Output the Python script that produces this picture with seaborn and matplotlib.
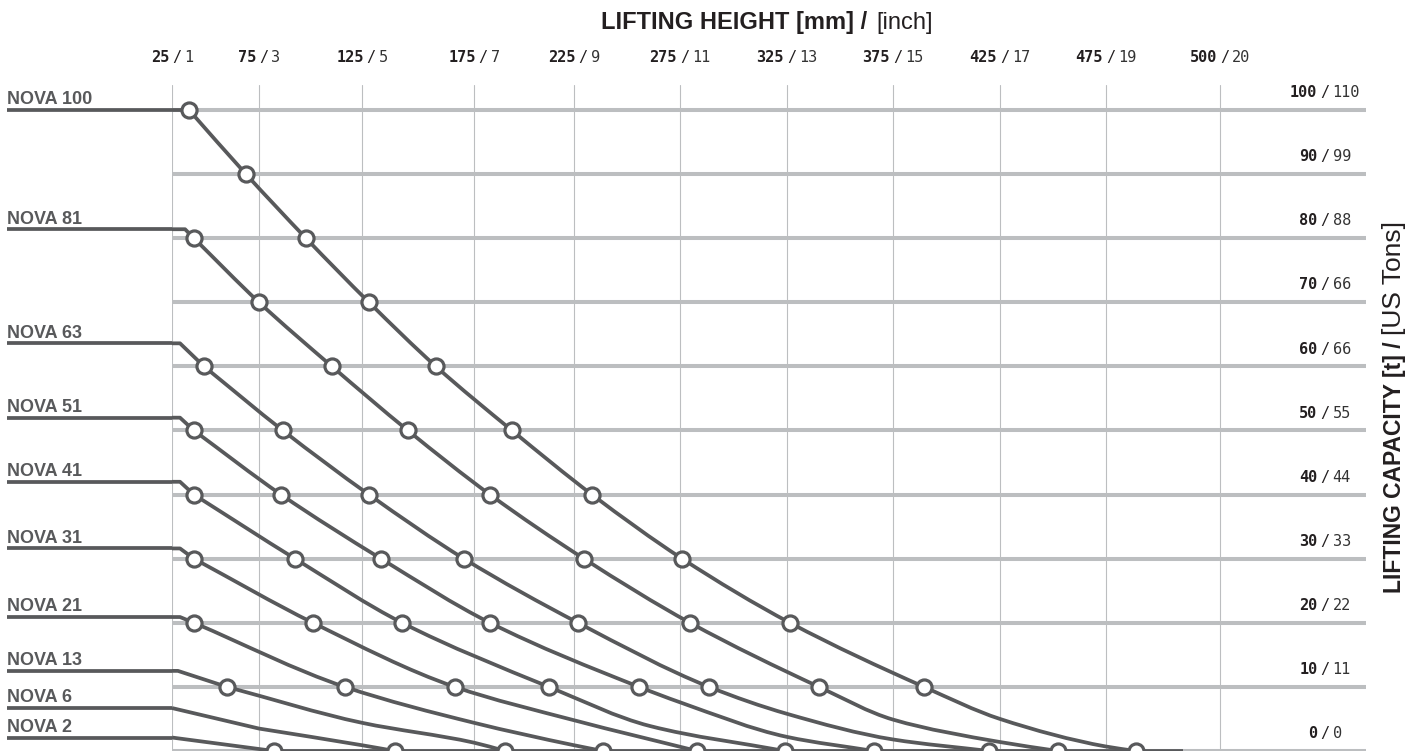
import matplotlib
matplotlib.use("Agg")
import matplotlib.pyplot as plt
import numpy as np
import pandas as pd
import seaborn as sns
from matplotlib.path import Path
from matplotlib.patches import PathPatch
from matplotlib.transforms import blended_transform_factory
from matplotlib.offsetbox import AnnotationBbox, HPacker, TextArea

# ---- axis scales -------------------------------------------------------
HEIGHT_MM = [25, 75, 125, 175, 225, 275, 325, 375, 425, 475, 500]
HEIGHT_IN = [1, 3, 5, 7, 9, 11, 13, 15, 17, 19, 20]
CAPACITY_T = [0, 10, 20, 30, 40, 50, 60, 70, 80, 90, 100]
CAPACITY_US = [0, 11, 22, 33, 44, 55, 66, 66, 88, 99, 110]  # as printed on the chart

# the source chart is not drawn to scale: where each height tick sits (px from the 25 mm line)
TICK_PX = [0, 87, 190, 302, 402, 508, 615, 721, 828, 934, 1048]

MODELS = ["NOVA 100", "NOVA 81", "NOVA 63", "NOVA 51", "NOVA 41",
          "NOVA 31", "NOVA 21", "NOVA 13", "NOVA 6", "NOVA 2"]

# ---- curves: lifting height [mm] vs capacity [t] -----------------------
N100_MM = [34.8, 67.5, 97.8, 128.1, 158.0, 194.0, 233.5, 276.0, 326.4, 389.5, 425.0, 475.0, 481.6]
N100_T = [100, 90, 80, 70, 60, 50, 40, 30, 20, 10, 5.0, 0.7, 0]
N81_MM = [32.5, 37.6, 75.0, 110.4, 145.5, 183.0, 229.7, 279.7, 340.1, 375.0, 425.0, 452.4]
N81_T = [81.4, 80, 70, 60, 50, 40, 30, 20, 10, 4.9, 1.4, 0]
N63_MM = [29.6, 43.4, 86.6, 128.1, 170.5, 226.9, 288.6, 325.0, 375.0, 419.9]
N63_T = [63.6, 60, 50, 40, 30, 20, 10, 5.8, 1.8, 0]
N51_MM = [29.6, 37.6, 85.7, 133.5, 183.0, 255.7, 275.0, 325.0, 366.0]
N51_T = [52.0, 50, 40, 30, 20, 10, 7.6, 2.2, 0]
N41_MM = [29.6, 37.6, 92.5, 142.9, 212.5, 260.8, 324.1]
N41_T = [42.0, 40, 30, 20, 10, 3.9, 0]
N31_MM = [29.6, 37.6, 101.2, 166.5, 225.0, 283.0]
N31_T = [31.6, 30, 20, 10, 4.8, 0]
N21_MM = [29.6, 37.6, 116.7, 175.0, 225.0, 238.7]
N21_T = [20.9, 20, 10, 4.4, 0.9, 0]
N13_MM = [28.4, 56.6, 125.0, 175.0, 190.5]
N13_T = [12.5, 10, 4.4, 1.3, 0]
N6_MM = [25.0, 75.0, 125.0, 139.7]
N6_T = [6.7, 3.5, 0.9, 0]
N2_MM = [25.0, 82.3]
N2_T = [2.1, 0]

CURVES = [(N100_MM, N100_T), (N81_MM, N81_T), (N63_MM, N63_T), (N51_MM, N51_T),
          (N41_MM, N41_T), (N31_MM, N31_T), (N21_MM, N21_T), (N13_MM, N13_T),
          (N6_MM, N6_T), (N2_MM, N2_T)]
LINE_END_MM = 491.9

INK = "#58595b"
GRID = "#bcbec0"
TEXT = "#231f20"
MONO = "DejaVu Sans Mono"


def _piecewise(v, xs, ys):
    v = np.asarray(v, dtype=float)
    out = np.interp(v, xs, ys)
    lo = (ys[1] - ys[0]) / (xs[1] - xs[0])
    hi = (ys[-1] - ys[-2]) / (xs[-1] - xs[-2])
    out = np.where(v < xs[0], ys[0] + (v - xs[0]) * lo, out)
    return np.where(v > xs[-1], ys[-1] + (v - xs[-1]) * hi, out)


def to_pos(mm):
    return _piecewise(mm, HEIGHT_MM, TICK_PX)


def to_mm(pos):
    return _piecewise(pos, TICK_PX, HEIGHT_MM)


def smooth_path(mm, t):
    # straight lead-in from the 25 mm line, then a monotone cubic through
    # the remaining points (worked out along the drawn axis)
    verts, codes = [(HEIGHT_MM[0], t[0])], [Path.MOVETO]
    if mm[0] > HEIGHT_MM[0]:
        verts.append((mm[0], t[0]))
        codes.append(Path.LINETO)
    if t[0] not in CAPACITY_T:  # bend point, not a marker: go straight to the next point
        verts.append((mm[1], t[1]))
        codes.append(Path.LINETO)
        mm, t = mm[1:], t[1:]
    if len(mm) < 2:
        return Path(verts, codes)
    x = to_pos(mm)
    y = np.asarray(t, float)
    h = np.diff(x)
    d = np.diff(y) / h
    m = np.empty_like(x)
    m[0], m[-1] = d[0], d[-1]
    for k in range(1, len(x) - 1):
        if d[k - 1] * d[k] <= 0:
            m[k] = 0.0
        else:
            w1, w2 = 2 * h[k] + h[k - 1], h[k] + 2 * h[k - 1]
            m[k] = (w1 + w2) / (w1 / d[k - 1] + w2 / d[k])
    for k in range(len(h)):
        c1 = (to_mm(x[k] + h[k] / 3), y[k] + m[k] * h[k] / 3)
        c2 = (to_mm(x[k + 1] - h[k] / 3), y[k + 1] - m[k + 1] * h[k] / 3)
        verts += [c1, c2, (mm[k + 1], y[k + 1])]
        codes += [Path.CURVE4] * 3
    return Path(verts, codes)


def pair_label(ax, bold, light, xy, xycoords, dy, size=11):
    box = HPacker(children=[
        TextArea(bold, textprops=dict(family=MONO, weight="bold", size=size, color=TEXT)),
        TextArea("/", textprops=dict(family=MONO, size=size, color=TEXT)),
        TextArea(light, textprops=dict(family=MONO, size=size, color="#333333")),
    ], sep=2.2, pad=0, align="baseline")
    ab = AnnotationBbox(box, xy, xycoords=xycoords, xybox=(0, dy), boxcoords="offset points",
                        box_alignment=(0.5, 0.5), frameon=False, annotation_clip=False, pad=0)
    ax.add_artist(ab)


sns.set_theme(style="white")
plt.rcParams["font.family"] = ["Liberation Sans", "DejaVu Sans"]

fig = plt.figure(figsize=(14.23, 7.51), dpi=100)
ax = fig.add_axes([172 / 1423, 0, 1194 / 1423, 666 / 751])

# markers sit where curves cross the capacity grid
rows = []
for name, (mm, t) in zip(MODELS, CURVES):
    for x, y in zip(mm, t):
        if y in CAPACITY_T:
            rows.append({"model": name, "height_mm": x, "capacity_t": y})
markers = pd.DataFrame(rows)
sns.scatterplot(data=markers, x="height_mm", y="capacity_t", ax=ax, s=118, color="white",
                edgecolor=INK, linewidth=2.3, zorder=5, legend=False)

ax.set_xscale("function", functions=(to_pos, to_mm))

left_tr = blended_transform_factory(fig.transFigure, ax.transData)
for name, (mm, t) in zip(MODELS, CURVES):
    ax.add_patch(PathPatch(smooth_path(mm, t), facecolor="none", edgecolor=INK,
                           lw=2.7, capstyle="butt", joinstyle="round", zorder=3))
    # entry line from the model label to the chart
    ax.plot([7 / 1423, 172 / 1423], [t[0], t[0]], transform=left_tr, color=INK,
            lw=2.7, solid_capstyle="butt", clip_on=False, zorder=3)
    ax.annotate(name, xy=(7 / 1423, t[0]), xycoords=("figure fraction", "data"),
                xytext=(0, 4), textcoords="offset points", ha="left", va="baseline",
                fontsize=13, fontweight="bold", color=INK, annotation_clip=False)

ax.plot([N2_MM[-1], LINE_END_MM], [0, 0], color=INK, lw=2.7, solid_capstyle="butt", zorder=3)

ax.set_xlim(HEIGHT_MM[0], float(to_mm(1194)))
ax.set_ylim(0, 103.9)
ax.set_xticks(HEIGHT_MM)
ax.set_yticks(CAPACITY_T)
ax.set_xticklabels([])
ax.set_yticklabels([])
ax.minorticks_off()
ax.tick_params(length=0)
ax.set_xlabel("")
ax.set_ylabel("")
ax.xaxis.grid(True, color=GRID, lw=0.8)
ax.yaxis.grid(True, color=GRID, lw=2.9)
ax.set_axisbelow(True)
for side in ax.spines.values():
    side.set_visible(False)

for mm, inch in zip(HEIGHT_MM, HEIGHT_IN):
    pair_label(ax, str(mm), str(inch), (mm, 1), ("data", "axes fraction"), 19.5)
for t, us in zip(CAPACITY_T, CAPACITY_US):
    pair_label(ax, str(t), str(us), ((1325 - 172) / 1194, t), ("axes fraction", "data"), 12.5)

title = HPacker(children=[
    TextArea("LIFTING HEIGHT [mm] /", textprops=dict(size=17, weight="bold", color=TEXT)),
    TextArea("[inch]", textprops=dict(size=17, color=TEXT)),
], sep=7, pad=0, align="baseline")
fig.add_artist(AnnotationBbox(title, (767 / 1423, 1 - 22 / 751), xycoords="figure fraction",
                              box_alignment=(0.5, 0.5), frameon=False, pad=0))

fig.text(1394 / 1423, 1 - 341 / 751, "LIFTING CAPACITY [t] /", rotation=90, ha="center",
         va="top", fontsize=16.5, fontweight="bold", color=TEXT)
fig.text(1394 / 1423, 1 - 335 / 751, "[US Tons]", rotation=90, ha="center",
         va="bottom", fontsize=19, color=TEXT)

fig.savefig("out.png", dpi=100)
